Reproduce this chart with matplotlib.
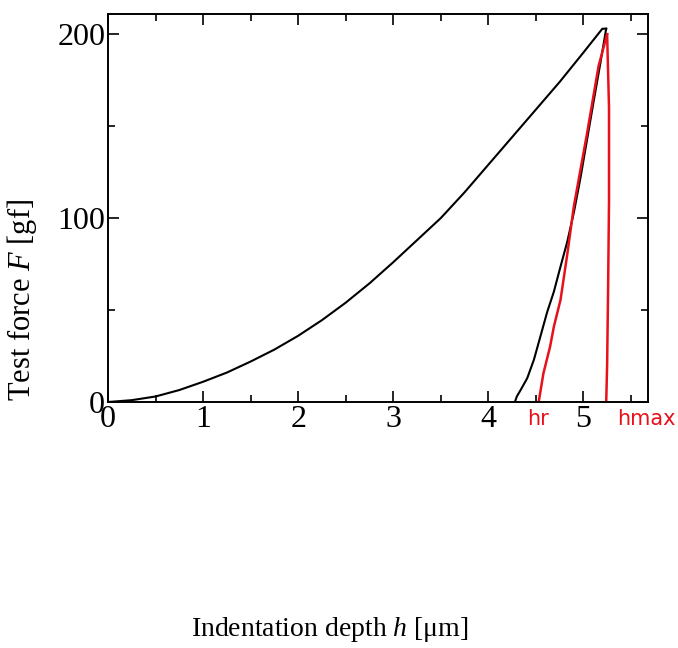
import matplotlib.pyplot as plt
from matplotlib.ticker import MultipleLocator

# loading curve (black)
load_h = [0, 0.25, 0.5, 0.75, 1.0, 1.25, 1.5, 1.75, 2.0, 2.25, 2.5, 2.75,
          3.0, 3.25, 3.5, 3.75, 4.0, 4.25, 4.5, 4.75, 5.0, 5.2, 5.24]
load_F = [0, 1, 3, 6.5, 11, 16, 22, 28.5, 36, 44.5, 54, 64.5,
          76, 88, 100, 114, 129, 144, 159, 174, 190, 203, 203]

# unloading curve (black)
unload_h = [5.24, 5.18, 5.11, 5.04, 4.97, 4.90, 4.83, 4.76, 4.69, 4.62,
            4.55, 4.48, 4.41, 4.34, 4.30, 4.28]
unload_F = [203, 184.6, 164, 143, 122, 103, 87, 73.7, 60, 49,
            36, 23, 13, 6.5, 3, 0]

# hand-drawn red lines
red_h = [5.25, 5.16, 5.04, 4.90, 4.83, 4.76, 4.69, 4.65, 4.58, 4.53]
red_F = [200, 182.7, 146.4, 106.4, 80, 55.6, 41, 30.1, 15.6, 0]
redv_h = [5.25, 5.27, 5.27, 5.26, 5.25, 5.24]
redv_F = [200, 160, 110, 60, 20, -1]

xticks_major = [0, 1, 2, 3, 4, 5]
yticks_major = [0, 100, 200]

plt.rcParams['font.family'] = ['Liberation Serif', 'DejaVu Serif']
plt.rcParams['mathtext.fontset'] = 'custom'
plt.rcParams['mathtext.rm'] = 'Liberation Serif'
plt.rcParams['mathtext.it'] = 'Liberation Serif:italic'

fig = plt.figure(figsize=(6.78, 6.48), dpi=100)
ax = fig.add_axes([108 / 678, 1 - 402 / 648, 540 / 678, 388 / 648])

ax.plot(load_h, load_F, color='black', lw=1.5, solid_joinstyle='round')
ax.plot(unload_h, unload_F, color='black', lw=1.5, solid_joinstyle='round')
ax.plot(red_h, red_F, color='#e8101a', lw=1.8, solid_joinstyle='round')
ax.plot(redv_h, redv_F, color='#e8101a', lw=1.8, solid_joinstyle='round')

ax.set_xlim(0, 5.68)
ax.set_ylim(0, 211)
ax.set_xticks(xticks_major)
ax.set_yticks(yticks_major)
ax.xaxis.set_minor_locator(MultipleLocator(0.5))
ax.yaxis.set_minor_locator(MultipleLocator(50))
ax.tick_params(which='both', direction='in', top=True, right=True, width=1.2,
               labelsize=23, pad=2)
ax.tick_params(which='major', length=8)
ax.tick_params(which='minor', length=5)
for s in ax.spines.values():
    s.set_linewidth(1.4)

fig.text(22 / 678, 1 - 300 / 648, 'Test force $F$ [gf]', rotation=90,
         ha='center', va='center', fontsize=22)
fig.text(330 / 678, 1 - 630 / 648, 'Indentation depth $h$ [\u03bcm]',
         ha='center', va='center', fontsize=20)

# handwritten red labels
fig.text(538 / 678, 1 - 419 / 648, 'hr', color='#e8101a', ha='center',
         va='center', fontsize=15, family='DejaVu Sans')
fig.text(646 / 678, 1 - 419 / 648, 'hmax', color='#e8101a', ha='center',
         va='center', fontsize=15, family='DejaVu Sans')

fig.savefig('out.png', dpi=100)
